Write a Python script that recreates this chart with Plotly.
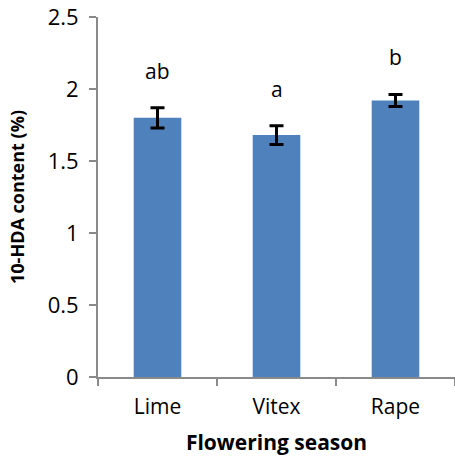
import plotly.graph_objects as go

categories = ["Lime", "Vitex", "Rape"]
values = [1.80, 1.68, 1.92]
errors = [0.07, 0.065, 0.042]
letters = ["ab", "a", "b"]
y_ticks = [0, 0.5, 1, 1.5, 2, 2.5]
y_ticktext = ["0", "0.5", "1", "1.5", "2", "2.5"]

FONT = "Open Sans"
AXIS_COLOR = "#8a8a8a"

fig = go.Figure()
fig.add_trace(go.Bar(
    x=categories, y=values, width=0.4,
    marker=dict(color="#4f81bd", line=dict(width=0)),
    error_y=dict(type="data", array=errors, visible=True,
                 color="black", thickness=3, width=7),
))

for c, v, e, t in zip(categories, values, errors, letters):
    fig.add_annotation(x=c, y=v + e, text=t, showarrow=False,
                       yanchor="bottom", yshift=21,
                       font=dict(family=FONT, size=21, color="black"))

fig.update_layout(
    width=455, height=456,
    margin=dict(l=98, r=0, t=17, b=79, autoexpand=False),
    paper_bgcolor="white", plot_bgcolor="white",
    showlegend=False,
    font=dict(family=FONT, color="black"),
    xaxis=dict(
        type="category", range=[-0.5, 2.5],
        showline=True, linecolor=AXIS_COLOR, linewidth=2,
        ticks="outside", tickson="boundaries", ticklen=7,
        tickcolor=AXIS_COLOR, tickwidth=2, ticklabelstandoff=10,
        tickfont=dict(family=FONT, size=21, color="black"),
        title=dict(text="<b>Flowering season</b>", standoff=16,
                   font=dict(family=FONT, size=21, color="black")),
        showgrid=False, zeroline=False,
    ),
    yaxis=dict(
        range=[0, 2.5], tickvals=y_ticks, ticktext=y_ticktext,
        showline=True, linecolor=AXIS_COLOR, linewidth=2,
        ticks="outside", ticklen=7, tickcolor=AXIS_COLOR, tickwidth=2,
        ticklabelstandoff=6, ticklabeloverflow="allow",
        tickfont=dict(family=FONT, size=22, color="black"),
        title=dict(text="<b>10-HDA content (%)</b>", standoff=18,
                   font=dict(family=FONT, size=18, color="black")),
        showgrid=False, zeroline=False,
    ),
)

# remove the browser's default 8px body margin so the figure fills the window
fig.write_html("out.html",
               config={"displayModeBar": False},
               post_script="document.body.style.margin='0';")
